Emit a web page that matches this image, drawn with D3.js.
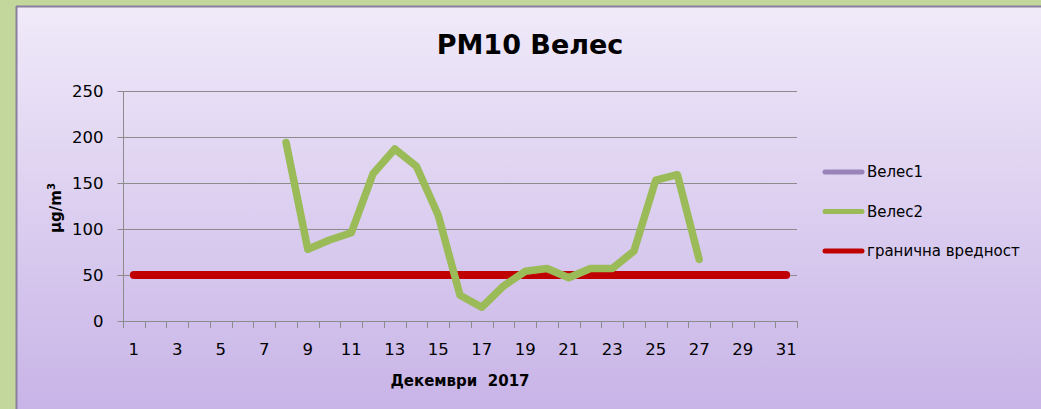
<!DOCTYPE html>
<html><head><meta charset="utf-8">
<script src="https://cdn.jsdelivr.net/npm/d3@7"></script>
<style>
html,body{margin:0;padding:0;background:#c3d69b;}
svg{display:block;}
text{font-family:"Comic Sans MS","DejaVu Sans",sans-serif;fill:#000;}
</style></head>
<body>
<svg id="c" width="1041" height="409"></svg>
<script>
const days = d3.range(1, 32);
const tickLabels = days.filter(d => d % 2 === 1);
const yTicks = [0, 50, 100, 150, 200, 250];
const veles1 = [];
const veles2Days = [8,9,10,11,12,13,14,15,16,17,18,19,20,21,22,23,24,25,26,27];
const veles2 = [194,78,88,96,160,187,168,115,28,15,38,54,57,47,57,57,76,153,159,67];
const limitValue = 50;
const seriesNames = ["Велес1", "Велес2", "гранична вредност"];
const seriesColors = ["#9983b8", "#9bbb59", "#c00000"];
const title = "PM10 Велес";
const xTitle = "Декември  2017";

const svg = d3.select("#c");
const defs = svg.append("defs");
const g = defs.append("linearGradient").attr("id","bg").attr("x1",0).attr("y1",0).attr("x2",0).attr("y2",1);
g.append("stop").attr("offset","0%").attr("stop-color","#f0eaf9");
g.append("stop").attr("offset","100%").attr("stop-color","#c8b4e7");

svg.append("rect").attr("x",16).attr("y",6).attr("width",1041-16).attr("height",409-6)
  .attr("fill","url(#bg)");
svg.append("line").attr("x1",16).attr("x2",1041).attr("y1",6.5).attr("y2",6.5).attr("stroke","#8a7fa0").attr("stroke-width",2);
svg.append("line").attr("x1",16.5).attr("x2",16.5).attr("y1",6).attr("y2",409).attr("stroke","#8a7fa0").attr("stroke-width",2);

const L = 123, R = 797, T = 91, B = 321;
const x = d3.scaleBand().domain(days).range([L, R]);
const y = d3.scaleLinear().domain([0, 250]).range([B, T]);

// gridlines
svg.append("g").selectAll("line").data(yTicks.filter(v => v > 0)).join("line")
  .attr("x1", L).attr("x2", R).attr("y1", d => y(d)+0.5).attr("y2", d => y(d)+0.5)
  .attr("stroke","#8c8c8c").attr("stroke-width",1.2);

// y axis
const ya = svg.append("g").attr("transform",`translate(${L+0.5},0)`)
  .call(d3.axisLeft(y).tickValues(yTicks).tickSize(6).tickPadding(14));
ya.select(".domain").attr("stroke","#8c8c8c").attr("d",`M0,${T}V${B}`);
ya.selectAll(".tick line").attr("stroke","#8c8c8c");
ya.selectAll(".tick text").style("font-size","16.5px").attr("font-family",null);

// x axis
const xa = svg.append("g").attr("transform",`translate(0,${B+0.5})`)
  .call(d3.axisBottom(x).tickValues(tickLabels).tickSize(0).tickPadding(22));
xa.select(".domain").attr("stroke","#8c8c8c").attr("d",`M${L},0H${R}`);
xa.selectAll(".tick text").style("font-size","16.5px").attr("font-family",null);
svg.append("g").selectAll("line").data(d3.range(0, 32)).join("line")
  .attr("x1", i => Math.round(L + i*x.step())+0.5).attr("x2", i => Math.round(L + i*x.step())+0.5)
  .attr("y1", B).attr("y2", B+7).attr("stroke","#8c8c8c");

const cx = d => x(d) + x.bandwidth()/2;
const line = d3.line().x(d => cx(d[0])).y(d => y(d[1]));

// limit line
svg.append("path").datum(days.map(d => [d, limitValue])).attr("d", line)
  .attr("fill","none").attr("stroke",seriesColors[2]).attr("stroke-width",8)
  .attr("stroke-linecap","round").attr("stroke-linejoin","round");

// Veles2
svg.append("path").datum(veles2Days.map((d,i) => [d, veles2[i]])).attr("d", line)
  .attr("fill","none").attr("stroke",seriesColors[1]).attr("stroke-width",7.5)
  .attr("stroke-linecap","round").attr("stroke-linejoin","round");

// title
svg.append("text").attr("x",530).attr("y",54).attr("text-anchor","middle")
  .style("font-size","27px").style("font-weight","bold").text(title);
svg.append("text").attr("x",460).attr("y",386).attr("text-anchor","middle")
  .style("font-size","15px").style("font-weight","bold").style("white-space","pre").attr("xml:space","preserve").text(xTitle);
const yl = svg.append("text").attr("transform","translate(61,208) rotate(-90)").attr("text-anchor","middle")
  .style("font-size","15px").style("font-weight","bold");
yl.append("tspan").text("μg/m");
yl.append("tspan").attr("dy",-6).style("font-size","10px").text("3");

// legend
const lg = svg.append("g").selectAll("g").data(seriesNames).join("g")
  .attr("transform",(d,i) => `translate(0,${172 + i*39.5})`);
lg.append("line").attr("x1",825).attr("x2",862).attr("y1",0).attr("y2",0)
  .attr("stroke",(d,i)=>seriesColors[i]).attr("stroke-width",5).attr("stroke-linecap","round");
lg.append("text").attr("x",867).attr("y",5).style("font-size",  "15px").text(d => d);
</script>
</body></html>
